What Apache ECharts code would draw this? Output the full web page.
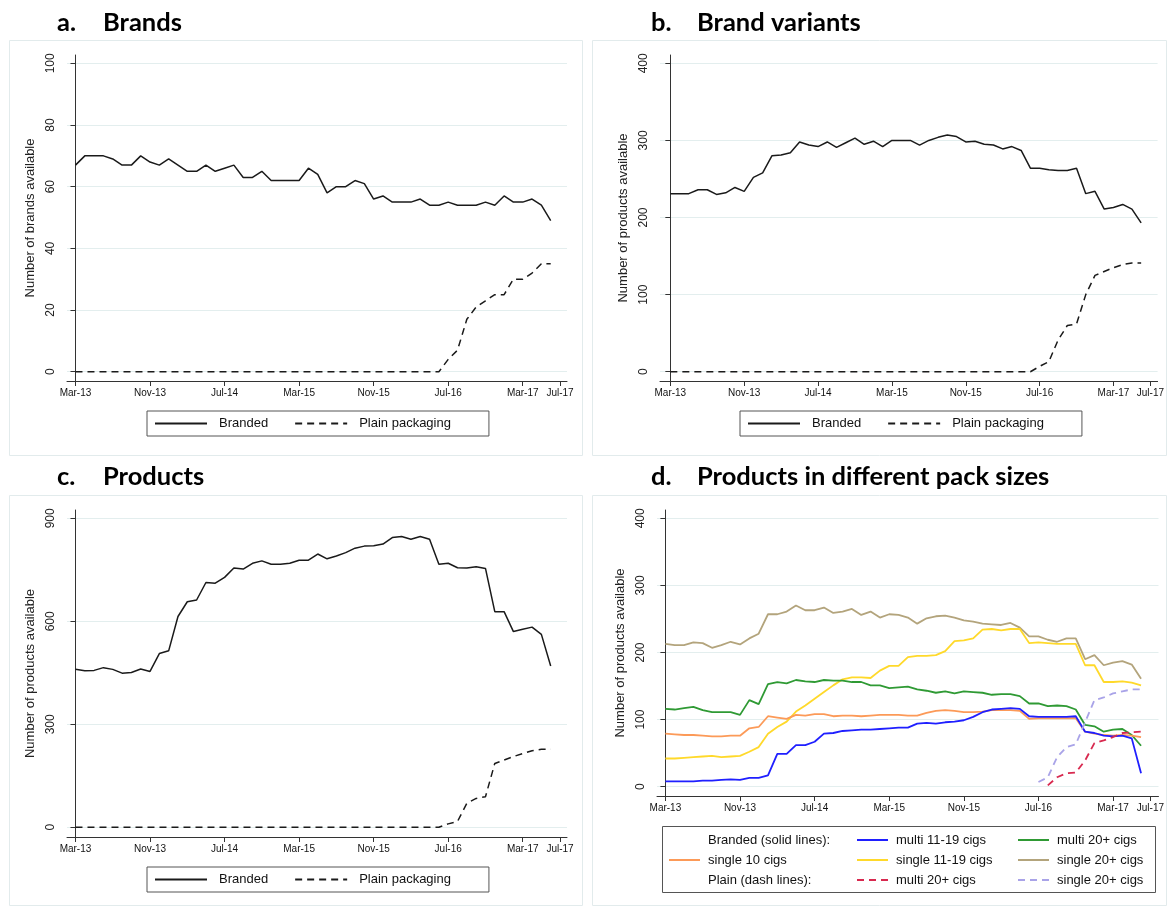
<!DOCTYPE html>
<html><head><meta charset="utf-8">
<script src="https://cdn.jsdelivr.net/npm/echarts@6/dist/echarts.min.js"></script>
<style>html,body{margin:0;padding:0;background:#fff}#c{width:1167px;height:908px}</style>
</head><body><div id="c"></div>
<script>
// x = months since Mar-13
const tickMonths = [0, 8, 16, 24, 32, 40, 48, 52];
const tickLabels = ['Mar-13', 'Nov-13', 'Jul-14', 'Mar-15', 'Nov-15', 'Jul-16', 'Mar-17', 'Jul-17'];

// a. Brands
const brandsBranded = [67,70,70,70,69,67,67,70,68,67,69,67,65,65,67,65,66,67,63,63,65,62,62,62,62,66,64,58,60,60,62,61,56,57,55,55,55,56,54,54,55,54,54,54,55,54,57,55,55,56,54,49];
const brandsPlain   = [0,0,0,0,0,0,0,0,0,0,0,0,0,0,0,0,0,0,0,0,0,0,0,0,0,0,0,0,0,0,0,0,0,0,0,0,0,0,0,0,4,7,17,21,23,25,25,30,30,32,35,35];
const brandsTicks = [0, 20, 40, 60, 80, 100];

// b. Brand variants
const variantsBranded = [231,231,231,236,236,230,232,239,234,252,258,280,281,284,298,294,292,298,291,297,303,295,299,292,300,300,300,294,300,304,307,305,298,299,295,294,289,292,287,264,264,262,261,261,264,231,234,211,213,217,211,193];
const variantsPlain   = [0,0,0,0,0,0,0,0,0,0,0,0,0,0,0,0,0,0,0,0,0,0,0,0,0,0,0,0,0,0,0,0,0,0,0,0,0,0,0,0,7,13,41,60,62,100,125,130,135,139,141,141];
const variantsTicks = [0, 100, 200, 300, 400];

// c. Products
const productsBranded = [460,456,457,465,460,449,451,461,454,506,514,614,657,662,713,711,728,755,752,769,776,766,766,769,778,778,796,782,790,800,813,819,820,825,844,847,839,847,839,766,769,756,755,759,754,628,628,570,577,583,562,470];
const productsPlain   = [0,0,0,0,0,0,0,0,0,0,0,0,0,0,0,0,0,0,0,0,0,0,0,0,0,0,0,0,0,0,0,0,0,0,0,0,0,0,0,0,10,17,70,84,89,186,196,206,215,223,227,227];
const productsTicks = [0, 300, 600, 900];

// d. Products in different pack sizes
const multi1119   = [8,8,8,8,9,9,10,11,10,13,13,17,49,49,62,62,67,79,80,83,84,85,85,86,87,88,88,94,95,94,96,97,99,104,111,115,116,117,116,105,104,104,104,104,105,82,80,76,75,76,72,20];
const multi20     = [116,115,117,119,114,111,111,111,107,129,123,153,156,154,159,157,156,159,158,158,156,156,151,151,147,148,149,145,143,140,142,139,142,141,140,137,138,138,135,124,124,120,121,120,115,92,90,82,85,86,77,61];
const single10    = [79,78,77,77,76,75,75,76,76,87,89,105,103,101,107,106,108,108,105,106,106,105,106,107,107,107,106,106,110,113,114,113,111,111,112,114,114,114,113,101,102,102,102,102,102,82,79,77,76,77,76,74];
const single1119  = [42,42,43,44,45,46,44,45,46,52,59,79,89,97,112,121,131,141,151,160,163,163,162,173,180,180,193,195,195,196,202,217,218,221,234,235,233,235,235,214,215,214,213,213,213,181,181,156,156,157,155,151];
const single20    = [213,211,211,215,214,207,211,216,212,221,228,257,257,261,270,263,263,267,259,261,265,256,261,252,257,256,252,243,251,254,255,252,248,246,243,242,241,244,237,224,224,219,216,221,221,190,196,181,185,187,182,161];
const plainMulti20  = [null,null,null,null,null,null,null,null,null,null,null,null,null,null,null,null,null,null,null,null,null,null,null,null,null,null,null,null,null,null,null,null,null,null,null,null,null,null,null,null,null,2,14,20,21,39,65,69,74,80,81,82];
const plainSingle20 = [null,null,null,null,null,null,null,null,null,null,null,null,null,null,null,null,null,null,null,null,null,null,null,null,null,null,null,null,null,null,null,null,null,null,null,null,null,null,null,null,7,14,44,59,63,96,129,133,139,142,145,145];
const packTicks = [0, 100, 200, 300, 400];

const FONT = 'Liberation Sans, Arial, sans-serif';
const pts = arr => arr.map((v, i) => [i, v]).filter(p => p[1] !== null);

function xAxis(g, min, max) {
  return {
    type: 'value', gridIndex: g, min: min, max: max,
    axisLine: { show: true, onZero: false, lineStyle: { color: '#333', width: 1 } },
    axisTick: { show: true, inside: false, length: 5, customValues: tickMonths, lineStyle: { color: '#333' } },
    axisLabel: { customValues: tickMonths, formatter: v => tickLabels[tickMonths.indexOf(v)], fontFamily: FONT, fontSize: 10, color: '#111', margin: 7 },
    splitLine: { show: false }
  };
}
function yAxis(g, min, max, ticks, name) {
  return {
    type: 'value', gridIndex: g, min: min, max: max,
    name: name, nameLocation: 'middle', nameGap: 30,
    nameTextStyle: { fontFamily: FONT, fontSize: 13, color: '#222' },
    axisLine: { show: true, lineStyle: { color: '#333', width: 1 } },
    axisTick: { show: true, inside: false, length: 5, customValues: ticks, lineStyle: { color: '#333' } },
    axisLabel: { customValues: ticks, rotate: 90, fontFamily: FONT, fontSize: 12, color: '#222', margin: 10 },
    splitLine: { show: true, lineStyle: { color: '#e3eeee', width: 1 } }
  };
}
function blk(name, g, data, dashed) {
  return {
    name: name, type: 'line', xAxisIndex: g, yAxisIndex: g, data: pts(data),
    symbol: 'none', showSymbol: false, silent: true,
    lineStyle: { color: '#1a1a1a', width: 1.5, type: dashed ? [7, 5] : 'solid' },
    itemStyle: { color: '#1a1a1a' }
  };
}
function col(name, data, color, dashed) {
  return {
    name: name, type: 'line', xAxisIndex: 3, yAxisIndex: 3, data: pts(data),
    symbol: 'none', showSymbol: false, silent: true,
    lineStyle: { color: color, width: 1.8, type: dashed ? [7, 5] : 'solid' },
    itemStyle: { color: color }
  };
}
function dummy(name) {
  return { name: name, type: 'line', xAxisIndex: 3, yAxisIndex: 3, data: [], symbol: 'none',
    lineStyle: { color: 'rgba(0,0,0,0)' }, itemStyle: { color: 'rgba(0,0,0,0)' } };
}
function bwLegend(left, top) {
  return {
    data: ['Branded', 'Plain packaging'], left: left, top: top, orient: 'horizontal',
    itemWidth: 52, itemHeight: 14, itemGap: 26, padding: [6, 38, 6, 7],
    borderColor: '#555', borderWidth: 1, selectedMode: false,
    itemStyle: { opacity: 0 },
    textStyle: { fontFamily: FONT, fontSize: 13, color: '#111', padding: [0, 0, 0, 7] }
  };
}
function colLegend(left, names) {
  return {
    data: names, left: left, top: 833, orient: 'vertical',
    itemWidth: 31, itemHeight: 14, itemGap: 6, padding: 0, selectedMode: false,
    itemStyle: { opacity: 0 },
    formatter: n => n.replace(/^Plain: /, ''),
    textStyle: { fontFamily: FONT, fontSize: 13, color: '#111', padding: [0, 0, 0, 3], lineHeight: 14 }
  };
}
function title(x, y, t) {
  return { type: 'text', x: x, y: y, style: { text: t, fontFamily: 'Lato, Calibri, sans-serif', fontWeight: 'bold', fontSize: 25.5, fill: '#000', textVerticalAlign: 'middle' } };
}
function box(x, y, w, h) {
  return { type: 'rect', shape: { x: x, y: y, width: w, height: h }, style: { fill: 'none', stroke: '#e2ebec', lineWidth: 1 }, silent: true, z: -1 };
}

const option = {
  animation: false,
  backgroundColor: '#fff',
  grid: [
    { left: 67, top: 55, width: 500, height: 326 },
    { left: 660, top: 55, width: 502, height: 326 },
    { left: 67, top: 510, width: 500, height: 327 },
    { left: 657, top: 510, width: 507, height: 286 }
  ],
  xAxis: [xAxis(0, -0.91, 52.75), xAxis(1, -1.12, 52.78), xAxis(2, -0.91, 52.75), xAxis(3, -0.9, 52.87)],
  yAxis: [
    yAxis(0, -3, 102.7, brandsTicks, 'Number of brands available'),
    yAxis(1, -12, 410.8, variantsTicks, 'Number of products available'),
    yAxis(2, -28.3, 924.2, productsTicks, 'Number of products available'),
    yAxis(3, -13.9, 412.4, packTicks, 'Number of products available')
  ],
  legend: [
    bwLegend(147, 411), bwLegend(740, 411), bwLegend(147, 867),
    colLegend(668, ['Branded (solid lines):', 'single 10 cigs', 'Plain (dash lines):']),
    colLegend(856, ['multi 11-19 cigs', 'single 11-19 cigs', 'Plain: multi 20+ cigs']),
    colLegend(1017, ['multi 20+ cigs', 'single 20+ cigs', 'Plain: single 20+ cigs'])
  ],
  series: [
    blk('Branded', 0, brandsBranded, false), blk('Plain packaging', 0, brandsPlain, true),
    blk('Branded', 1, variantsBranded, false), blk('Plain packaging', 1, variantsPlain, true),
    blk('Branded', 2, productsBranded, false), blk('Plain packaging', 2, productsPlain, true),
    dummy('Branded (solid lines):'), dummy('Plain (dash lines):'),
    col('single 20+ cigs', single20, '#b3a47c', false),
    col('single 11-19 cigs', single1119, '#ffd92a', false),
    col('multi 20+ cigs', multi20, '#2f9a34', false),
    col('single 10 cigs', single10, '#fc9a58', false),
    col('multi 11-19 cigs', multi1119, '#1f1fff', false),
    col('Plain: single 20+ cigs', plainSingle20, '#a9a3e8', true),
    col('Plain: multi 20+ cigs', plainMulti20, '#d8294f', true)
  ],
  graphic: [
    box(9.5, 40.5, 573, 415), box(592.5, 40.5, 574, 415),
    box(9.5, 495.5, 573, 410), box(592.5, 495.5, 574, 410),
    { type: 'rect', shape: { x: 662.5, y: 826.5, width: 493, height: 66 }, style: { fill: 'none', stroke: '#555', lineWidth: 1 }, silent: true },
    title(57, 23, 'a.'), title(103, 23, 'Brands'),
    title(651, 23, 'b.'), title(697, 23, 'Brand variants'),
    title(57, 477, 'c.'), title(103, 477, 'Products'),
    title(651, 477, 'd.'), title(697, 477, 'Products in different pack sizes')
  ]
};
const chart = echarts.init(document.getElementById('c'), null, { renderer: 'canvas' });
chart.setOption(option);
</script>
</body></html>
